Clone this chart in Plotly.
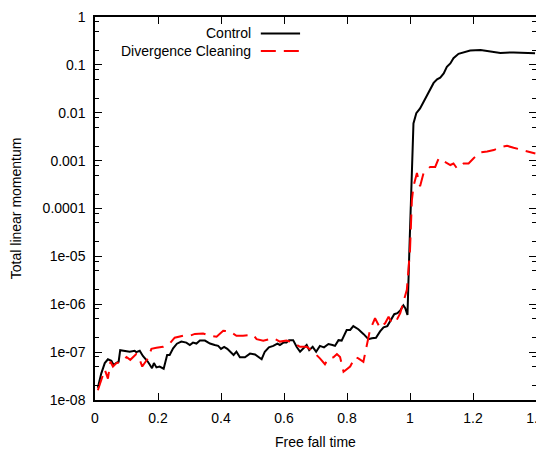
import plotly.graph_objects as go

# ---------------- data ----------------
control_t = [0.009, 0.020, 0.031, 0.041, 0.052, 0.059, 0.068, 0.075, 0.080, 0.089,
             0.110, 0.126, 0.131, 0.142, 0.152, 0.168, 0.181, 0.187, 0.195, 0.205,
             0.218, 0.229, 0.237, 0.248, 0.260, 0.274, 0.290, 0.301, 0.311, 0.322,
             0.333, 0.349, 0.365, 0.380, 0.391, 0.400, 0.410, 0.420, 0.433, 0.440,
             0.449, 0.460, 0.476, 0.492, 0.508, 0.518, 0.529, 0.539, 0.552, 0.566,
             0.579, 0.587, 0.598, 0.608, 0.616, 0.629, 0.640, 0.651, 0.661, 0.672,
             0.680, 0.691, 0.702, 0.714, 0.727, 0.741, 0.754, 0.762, 0.773, 0.783,
             0.799, 0.810, 0.820, 0.836, 0.852, 0.868, 0.879, 0.892, 0.905, 0.916,
             0.928, 0.937, 0.950, 0.960, 0.969, 0.979, 0.985, 0.992, 0.995, 0.998,
             1.011, 1.020, 1.032, 1.043, 1.054, 1.064, 1.075, 1.086, 1.096, 1.107,
             1.117, 1.128, 1.138, 1.154, 1.170, 1.191, 1.224, 1.245, 1.266, 1.287,
             1.329, 1.372, 1.397]
control_p = [1.8e-8, 3.6e-8, 5.9e-8, 7.1e-8, 6.6e-8, 5.4e-8, 6.0e-8, 6.3e-8, 1.1e-7, 1.07e-7,
             1.02e-7, 1.07e-7, 1.0e-7, 1.07e-7, 8.3e-8, 6.3e-8, 4.6e-8, 5.9e-8, 4.8e-8, 5.0e-8,
             4.5e-8, 8.7e-8, 8.7e-8, 1.2e-7, 1.5e-7, 1.66e-7, 1.58e-7, 1.41e-7, 1.58e-7, 1.51e-7,
             1.74e-7, 1.74e-7, 1.51e-7, 1.41e-7, 1.35e-7, 1.17e-7, 1.29e-7, 1.17e-7, 9.8e-8, 8.7e-8,
             1.02e-7, 7.8e-8, 7.8e-8, 9.3e-8, 8.9e-8, 7.9e-8, 7.1e-8, 1.02e-7, 1.26e-7, 1.35e-7,
             1.51e-7, 1.41e-7, 1.58e-7, 1.58e-7, 1.78e-7, 1.78e-7, 1.29e-7, 1.02e-7, 1.17e-7, 1.41e-7,
             1.1e-7, 1.29e-7, 1.02e-7, 1.35e-7, 1.26e-7, 1.48e-7, 1.41e-7, 1.35e-7, 1.78e-7, 1.74e-7,
             2.9e-7, 2.9e-7, 3.5e-7, 3.0e-7, 2.4e-7, 1.86e-7, 1.95e-7, 2.0e-7, 2.7e-7, 3.3e-7,
             3.5e-7, 4.4e-7, 6.2e-7, 6.5e-7, 7.4e-7, 9.5e-7, 8.3e-7, 6.0e-7, 3.2e-6, 1.35e-5,
             6.0e-3, 9.8e-3, 1.23e-2, 1.7e-2, 2.3e-2, 2.95e-2, 4.2e-2, 5.0e-2, 5.4e-2, 6.6e-2,
             9.1e-2, 0.107, 0.138, 0.17, 0.182, 0.2, 0.204, 0.195, 0.182, 0.178,
             0.182, 0.174, 0.174]

clean_t = [0.009, 0.020, 0.031, 0.041, 0.049, 0.057, 0.068, 0.084, 0.100, 0.112,
           0.131, 0.142, 0.150, 0.168, 0.179, 0.195, 0.216, 0.237, 0.253, 0.280,
           0.301, 0.317, 0.343, 0.365, 0.386, 0.407, 0.428, 0.449, 0.470, 0.502,
           0.513, 0.534, 0.566, 0.587, 0.608, 0.629, 0.651, 0.672, 0.693, 0.714,
           0.730, 0.741, 0.757, 0.768, 0.778, 0.789, 0.810, 0.826, 0.836, 0.852,
           0.863, 0.873, 0.889, 0.905, 0.921, 0.932, 0.943, 0.958, 0.969, 0.979,
           0.990, 0.995, 1.000, 1.006, 1.011, 1.022, 1.032, 1.043, 1.054, 1.064,
           1.080, 1.091, 1.101, 1.128, 1.138, 1.149, 1.170, 1.186, 1.202, 1.224,
           1.245, 1.266, 1.287, 1.308, 1.329, 1.361, 1.398]
clean_p = [1.6e-8, 2.6e-8, 4.3e-8, 2.8e-8, 6.3e-8, 5.0e-8, 5.9e-8, 6.3e-8, 7.9e-8, 6.9e-8,
           9.1e-8, 6.9e-8, 5.0e-8, 7.4e-8, 1.17e-7, 1.23e-7, 1.29e-7, 1.51e-7, 2.0e-7, 2.2e-7,
           2.2e-7, 2.4e-7, 2.45e-7, 2.2e-7, 2.1e-7, 2.8e-7, 2.7e-7, 2.2e-7, 2.2e-7, 2.3e-7,
           1.86e-7, 1.74e-7, 1.95e-7, 1.66e-7, 1.74e-7, 1.58e-7, 1.29e-7, 1.29e-7, 1.02e-7, 7.4e-8,
           5.6e-8, 7.4e-8, 7.8e-8, 9.1e-8, 7.9e-8, 3.9e-8, 5.0e-8, 7.9e-8, 7.4e-8, 6.3e-8,
           1.51e-7, 2.9e-7, 5.1e-7, 3.2e-7, 4.0e-7, 5.5e-7, 4.0e-7, 4.7e-7, 6.5e-7, 1.05e-6,
           2.0e-6, 5.2e-6, 1.35e-5, 1.5e-4, 2.9e-4, 5.5e-4, 2.9e-4, 5.5e-4, 6.3e-4, 7.4e-4,
           7.4e-4, 1.12e-3, 1.02e-3, 8.1e-4, 8.7e-4, 6.9e-4, 8.7e-4, 8.7e-4, 1.12e-3, 1.48e-3,
           1.55e-3, 1.66e-3, 1.9e-3, 2.04e-3, 1.86e-3, 1.66e-3, 1.41e-3]

x_ticks = [0, 0.2, 0.4, 0.6, 0.8, 1.0, 1.2, 1.4]
x_labels = ["0", "0.2", "0.4", "0.6", "0.8", "1", "1.2", "1.4"]
y_ticks = [1e-8, 1e-7, 1e-6, 1e-5, 1e-4, 1e-3, 1e-2, 1e-1, 1]
y_labels = ["1e-08", "1e-07", "1e-06", "1e-05", "0.0001", "0.001", "0.01", "0.1", "1"]
y_minor = [m * d for d in [1e-8, 1e-7, 1e-6, 1e-5, 1e-4, 1e-3, 1e-2, 1e-1] for m in (2, 5, 8)]

series_names = ["Control", "Divergence Cleaning"]
series_colors = ["#000000", "#ff0000"]
x_title = "Free fall time"
y_title = "Total linear momentum"

FONT = "Liberation Sans, Arial, sans-serif"

fig = go.Figure()
fig.add_trace(go.Scatter(x=control_t, y=control_p, mode="lines", name=series_names[0],
                         line=dict(color=series_colors[0], width=2), showlegend=False))
fig.add_trace(go.Scatter(x=clean_t, y=clean_p, mode="lines", name=series_names[1],
                         line=dict(color=series_colors[1], width=2, dash="15px,8px"),
                         showlegend=False))

# manual legend (text right, sample line to its right, gnuplot style)
leg_y = [0.957, 0.911]
for name, col, yy, dash in zip(series_names, series_colors, leg_y, ["solid", "15px,8px"]):
    fig.add_annotation(x=0.358, y=yy, xref="paper", yref="paper", text=name,
                       showarrow=False, xanchor="right", yanchor="middle",
                       font=dict(family=FONT, size=14, color="black"))
    fig.add_shape(type="line", xref="paper", yref="paper", x0=0.376, x1=0.465,
                  y0=yy, y1=yy, line=dict(color=col, width=2, dash=dash))

# axis titles
fig.add_annotation(x=0.5, y=-0.109, xref="paper", yref="paper", text=x_title,
                   showarrow=False, xanchor="center", yanchor="middle",
                   font=dict(family=FONT, size=14, color="black"))
fig.add_annotation(x=-0.179, y=0.501, xref="paper", yref="paper", text=y_title,
                   showarrow=False, xanchor="center", yanchor="middle", textangle=-90,
                   font=dict(family=FONT, size=14, color="black"))

fig.update_xaxes(range=[0, 1.4], tickvals=x_ticks, ticktext=x_labels, automargin=False,
                 ticklabeloverflow="allow", ticklabelstandoff=4,
                 ticks="inside", ticklen=7, tickwidth=1, tickcolor="black",
                 showline=True, linecolor="black", linewidth=1.5, mirror="ticks",
                 showgrid=False, zeroline=False,
                 tickfont=dict(family=FONT, size=14, color="black"))
fig.update_yaxes(type="log", range=[-8, 0], tickvals=y_ticks, ticktext=y_labels, automargin=False,
                 ticklabeloverflow="allow", ticklabelstandoff=5,
                 ticks="inside", ticklen=7, tickwidth=1, tickcolor="black",
                 minor=dict(tickvals=y_minor, ticks="inside", ticklen=4, tickcolor="black",
                            showgrid=False),
                 showline=True, linecolor="black", linewidth=1.5, mirror="ticks",
                 showgrid=False, zeroline=False,
                 tickfont=dict(family=FONT, size=14, color="black"))

# page body has an 8px margin, so the figure is 8px smaller and margins shifted
fig.update_layout(width=536, height=442, margin=dict(l=87, r=8, t=9, b=50),
                  paper_bgcolor="white", plot_bgcolor="white",
                  font=dict(family=FONT, size=14, color="black"))

fig.write_html("out.html")
